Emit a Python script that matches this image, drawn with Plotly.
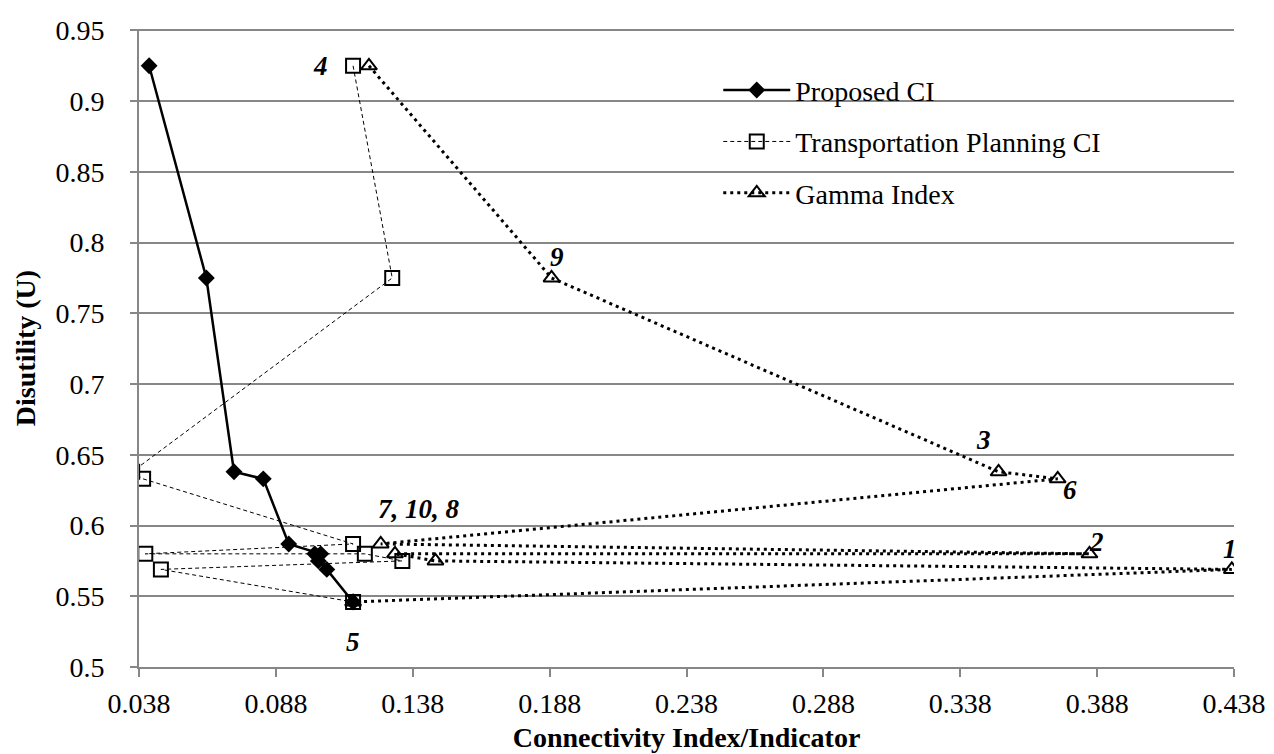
import plotly.graph_objects as go

# Networks, ordered as plotted (by decreasing disutility)
networks = ["4", "9", "3", "6", "7", "2", "10", "8", "1", "5"]
disutility = [0.925, 0.775, 0.638, 0.633, 0.587, 0.580, 0.580, 0.575, 0.569, 0.546]
proposed_ci = [0.0417, 0.0626, 0.0727, 0.0834, 0.0927, 0.1044, 0.1022, 0.1035, 0.1066, 0.1162]
transport_ci = [0.1162, 0.1305, 0.0355, 0.0395, 0.1162, 0.0403, 0.1205, 0.1342, 0.0460, 0.1162]
gamma_index = [0.1220, 0.1887, 0.3520, 0.3736, 0.1263, 0.3852, 0.1315, 0.1463, 0.4372, 0.1162]

x_ticks = [0.038, 0.088, 0.138, 0.188, 0.238, 0.288, 0.338, 0.388, 0.438]
x_tick_labels = ["0.038", "0.088", "0.138", "0.188", "0.238", "0.288", "0.338", "0.388", "0.438"]
y_ticks = [0.5, 0.55, 0.6, 0.65, 0.7, 0.75, 0.8, 0.85, 0.9, 0.95]
y_tick_labels = ["0.5", "0.55", "0.6", "0.65", "0.7", "0.75", "0.8", "0.85", "0.9", "0.95"]

# point labels: (text, series, network index in arrays)
point_labels = [("4", "tp", 0), ("9", "gamma", 1), ("3", "gamma", 2), ("6", "gamma", 3),
                ("7, 10, 8", "gamma", 4), ("2", "gamma", 5), ("1", "gamma", 8), ("5", "proposed", 9)]
label_shifts = {"4": (-33, 0), "9": (5, 21), "3": (-15, 32), "6": (12, -11),
                "7, 10, 8": (38, 35), "2": (7, 12), "1": (-2, 20), "5": (0, -40)}

FONT = "Liberation Serif"
GRID = "#878787"

fig = go.Figure()
fig.add_trace(go.Scatter(
    x=proposed_ci, y=disutility, mode="lines+markers", name="Proposed CI",
    legendgroup="a",
    line=dict(color="black", width=2.5),
    marker=dict(symbol="diamond", size=13, color="black"),
))
fig.add_trace(go.Scatter(
    x=transport_ci, y=disutility, mode="lines+markers", name="Transportation Planning CI",
    legendgroup="b",
    line=dict(color="black", width=1, dash="4px,3px"),
    marker=dict(symbol="square-open", size=14, color="black", line=dict(width=2, color="black")),
))
fig.add_trace(go.Scatter(
    x=gamma_index, y=disutility, mode="lines+markers", name="Gamma Index",
    legendgroup="c",
    line=dict(color="black", width=3, dash="3px,4px"),
    marker=dict(symbol="triangle-up-open", size=14, color="black", line=dict(width=2, color="black")),
))

series = {"proposed": proposed_ci, "tp": transport_ci, "gamma": gamma_index}
for text, s, i in point_labels:
    dx, dy = label_shifts[text]
    fig.add_annotation(x=series[s][i], y=disutility[i], text="<b><i>%s</i></b>" % text,
                       showarrow=False, xshift=dx, yshift=dy,
                       font=dict(family=FONT, size=27, color="black"))

tickfont = dict(family=FONT, size=28, color="black")
fig.update_layout(
    width=1274, height=754,
    margin=dict(l=131, r=48, t=21, b=95),
    paper_bgcolor="white", plot_bgcolor="white",
    font=dict(family=FONT, size=28, color="black"),
    showlegend=True,
    legend=dict(x=0.529, y=0.943, xanchor="left", yanchor="top",
                bgcolor="rgba(0,0,0,0)", font=dict(family=FONT, size=28),
                itemwidth=67, tracegroupgap=12, traceorder="grouped"),
    xaxis=dict(range=[0.038, 0.438], tickvals=x_ticks, ticktext=x_tick_labels,
               tickfont=tickfont, automargin=False,
               showgrid=False, zeroline=False, showline=True, linecolor=GRID, linewidth=2,
               ticks="outside", ticklen=8, tickwidth=2, tickcolor=GRID,
               ticklabelstandoff=2,
               title=dict(text="<b>Connectivity Index/Indicator</b>", standoff=10,
                          font=dict(family=FONT, size=28))),
    yaxis=dict(range=[0.5, 0.951], tickvals=y_ticks, ticktext=y_tick_labels,
               tickfont=tickfont, automargin=False,
               showgrid=True, gridcolor=GRID, gridwidth=2, zeroline=False,
               showline=True, linecolor=GRID, linewidth=2,
               ticks="outside", ticklen=7, tickwidth=2, tickcolor=GRID,
               ticklabelstandoff=20,
               title=dict(text="<b>Disutility (U)</b>", standoff=12,
                          font=dict(family=FONT, size=28))),
)

fig.write_html("out.html")
